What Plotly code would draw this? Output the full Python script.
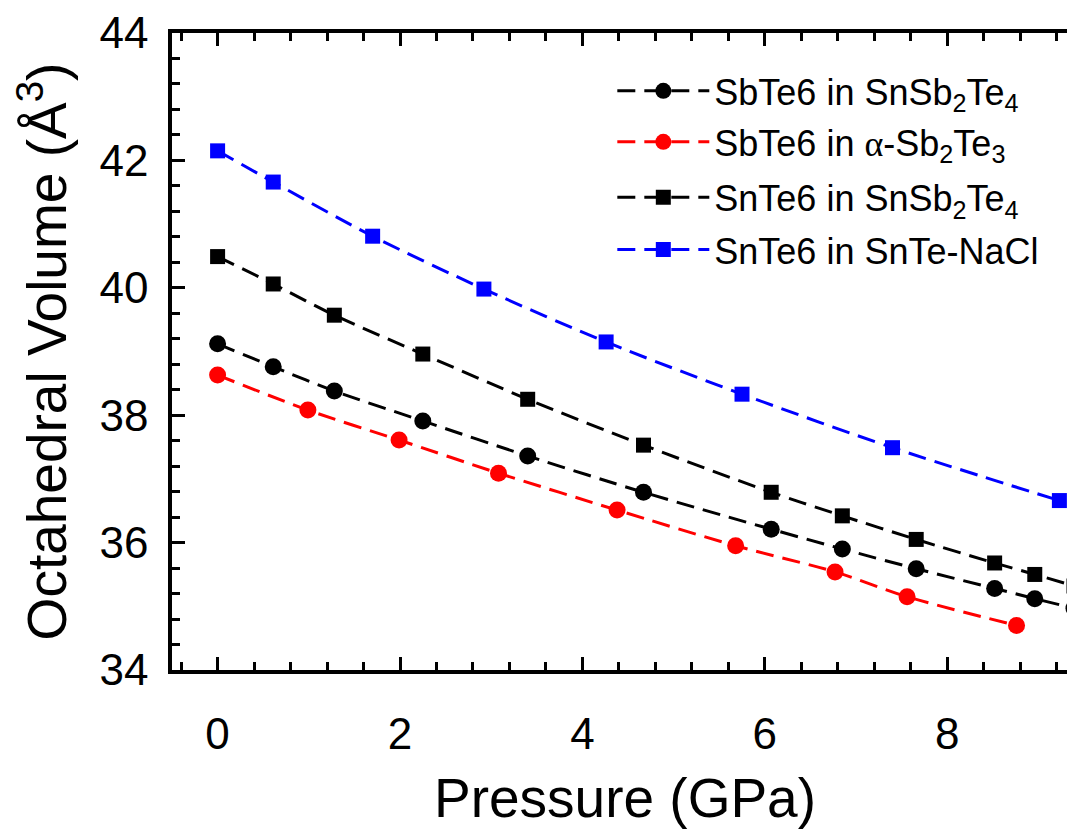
import plotly.graph_objects as go

# Data
p_snsb = [0, 0.61, 1.28, 2.25, 3.40, 4.67, 6.07, 6.85, 7.66, 8.52, 8.96, 9.39]
v_sbte6_snsb = [39.12, 38.76, 38.38, 37.91, 37.36, 36.79, 36.21, 35.90, 35.59, 35.28, 35.12, 34.97]
v_snte6_snsb = [40.49, 40.06, 39.57, 38.96, 38.25, 37.53, 36.79, 36.42, 36.05, 35.68, 35.50, 35.32]

p_sb2te3 = [0, 0.99, 1.99, 3.08, 4.38, 5.68, 6.77, 7.56, 8.76]
v_sbte6_sb2te3 = [38.63, 38.08, 37.61, 37.09, 36.51, 35.95, 35.54, 35.15, 34.70]

p_snte = [0, 0.61, 1.70, 2.92, 4.26, 5.75, 7.40, 9.23]
v_snte6_snte = [42.15, 41.66, 40.81, 39.98, 39.15, 38.33, 37.49, 36.66]

names = [
    "SbTe6 in SnSb<sub>2</sub>Te<sub>4</sub>",
    "SbTe6 in <span style=\"font-family:'Liberation Serif'\">\u03b1</span>-Sb<sub>2</sub>Te<sub>3</sub>",
    "SnTe6 in SnSb<sub>2</sub>Te<sub>4</sub>",
    "SnTe6 in SnTe-NaCl",
]

FONT = "Liberation Sans, Arial, sans-serif"
DASH = "18px,9px"

fig = go.Figure()
series = [
    (p_snsb, v_sbte6_snsb, names[0], "black", "circle", 17, "legend2"),
    (p_sb2te3, v_sbte6_sb2te3, names[1], "red", "circle", 17, "legend3"),
    (p_snsb, v_snte6_snsb, names[2], "black", "square", 15, "legend4"),
    (p_snte, v_snte6_snte, names[3], "blue", "square", 15, "legend5"),
]
for x, y, nm, col, sym, sz, lg in series:
    fig.add_trace(go.Scatter(
        x=x, y=y, name=nm, mode="lines+markers", legend=lg,
        line=dict(color=col, width=3, dash=DASH, shape="spline", smoothing=0.8),
        marker=dict(color=col, symbol=sym, size=sz),
    ))

axis_common = dict(
    showline=True, linecolor="black", linewidth=3.5,
    ticks="inside", ticklen=13, tickwidth=2.5, tickcolor="black",
    showgrid=False, zeroline=False, automargin=False,
    tickfont=dict(family=FONT, size=44, color="black"),
)

legend_rows = [0.909, 0.829, 0.742, 0.66]
legend_common = dict(
    x=0.486, xanchor="left", yanchor="middle",
    bgcolor="rgba(0,0,0,0)", borderwidth=0,
    font=dict(family=FONT, size=36, color="black"),
    itemwidth=92,
)

fig.update_layout(
    # the page body adds an 8px offset; the right frame edge sits just past the window edge
    width=1070, height=821,
    margin=dict(l=164, r=0, t=25, b=159),
    paper_bgcolor="white", plot_bgcolor="white",
    font=dict(family=FONT, color="black"),
    showlegend=True,
    xaxis=dict(
        range=[-0.5, 9.434], tick0=0, dtick=2, mirror="ticks",
        minor=dict(dtick=0.4, tick0=0, ticks="inside", ticklen=8, tickwidth=2.5, tickcolor="black"),
        ticklabelstandoff=22,
        title=dict(text="Pressure (GPa)", font=dict(family=FONT, size=55, color="black"), standoff=36),
        **axis_common,
    ),
    yaxis=dict(
        range=[34, 44], tick0=34, dtick=2,
        minor=dict(dtick=0.4, tick0=34, ticks="inside", ticklen=8, tickwidth=2.5, tickcolor="black"),
        ticklabelstandoff=11,
        title=dict(text="Octahedral Volume (\u00c5<sup>3</sup>)", font=dict(family=FONT, size=55, color="black"), standoff=23),
        **axis_common,
    ),
    yaxis2=dict(
        overlaying="y", side="right", range=[34, 44], tick0=34, dtick=2, automargin=False,
        showline=False, showgrid=False, zeroline=False, showticklabels=False,
        ticks="inside", ticklen=13, tickwidth=2.5, tickcolor="black",
        minor=dict(dtick=0.4, tick0=34, ticks="inside", ticklen=8, tickwidth=2.5, tickcolor="black"),
    ),
    legend2=dict(y=legend_rows[0], **legend_common),
    legend3=dict(y=legend_rows[1], **legend_common),
    legend4=dict(y=legend_rows[2], **legend_common),
    legend5=dict(y=legend_rows[3], **legend_common),
)

fig.write_html("out.html")
